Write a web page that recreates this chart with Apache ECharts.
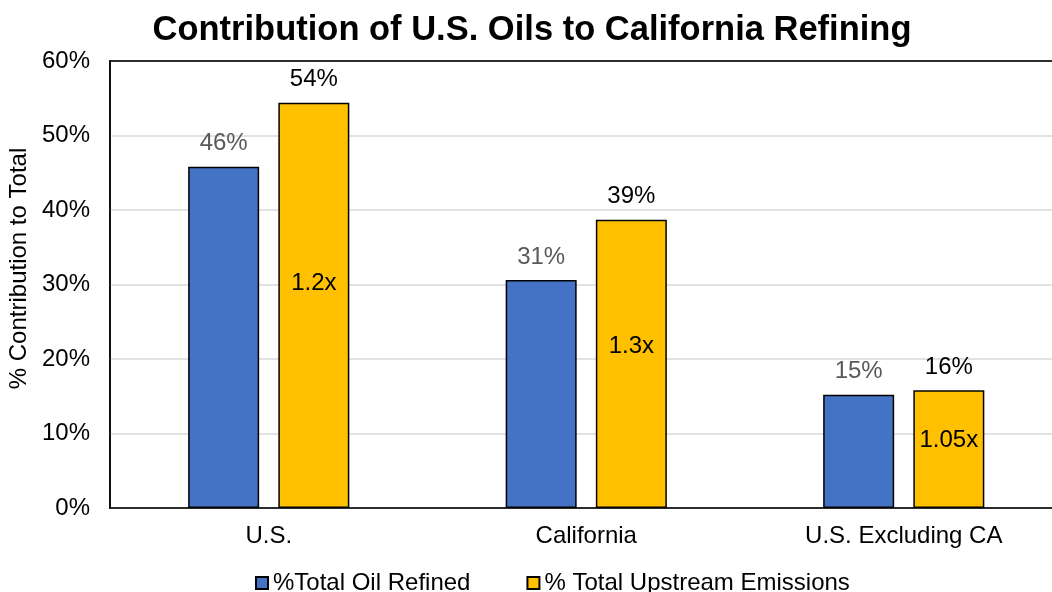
<!DOCTYPE html>
<html><head><meta charset="utf-8">
<script src="https://cdn.jsdelivr.net/npm/echarts@6/dist/echarts.min.js"></script>
<style>html,body{margin:0;padding:0;background:#fff}#c{width:1052px;height:592px}</style>
</head><body><div id="c"></div>
<script>
const categories = ['U.S.', 'California', 'U.S. Excluding CA'];
const oilRefined = [45.8, 30.6, 15.2];
const upstreamEmissions = [54.4, 38.7, 15.8];
const ratioLabels = ['1.2x', '1.3x', '1.05x'];
const yTicks = [0, 10, 20, 30, 40, 50, 60];

const FONT = '"Liberation Sans", Arial, sans-serif';
const ratioOffsets = [-22, -17, -9];
const BW = 71, GAP = '27%';

const chart = echarts.init(document.getElementById('c'));
chart.setOption({
  animation: false,
  title: {
    text: 'Contribution of U.S. Oils to California Refining',
    left: 527, top: 8, textAlign: 'center',
    textStyle: {fontFamily: FONT, fontSize: 34.5, fontWeight: 'bold', color: '#000'}
  },
  legend: {
    top: 566, left: 250, itemWidth: 12, itemHeight: 12, itemGap: 56,
    icon: 'rect',
    textStyle: {fontFamily: FONT, fontSize: 24, color: '#000'},
    data: ['%Total Oil Refined', '% Total Upstream Emissions']
  },
  grid: {left: 110, right: -10.5, top: 61, bottom: 84, show: true, borderColor: '#000', borderWidth: 1.5,
    outerBoundsMode: 'none', containLabel: false},
  xAxis: [{
    type: 'category', data: categories,
    axisLine: {lineStyle: {color: '#000', width: 1.5}},
    axisTick: {show: false},
    axisLabel: {fontFamily: FONT, fontSize: 24, color: '#000', margin: 16}
  }, {
    type: 'category', data: categories, position: 'top',
    axisLine: {show: true, lineStyle: {color: '#000', width: 1.5}},
    axisTick: {show: false}, axisLabel: {show: false}, splitLine: {show: false}
  }],
  yAxis: {
    type: 'value', min: 0, max: 60, interval: 10,
    name: '% Contribution to Total', nameLocation: 'middle', nameGap: 78,
    nameTextStyle: {fontFamily: FONT, fontSize: 24, color: '#000', padding: [0, 0, 0, 32]},
    axisLine: {show: true, lineStyle: {color: '#000', width: 1.5}},
    axisTick: {show: false},
    axisLabel: {fontFamily: FONT, fontSize: 24, color: '#000', margin: 20,
      formatter: v => yTicks.includes(v) ? v + '%' : ''},
    splitLine: {lineStyle: {color: '#d9d9d9', width: 1.5}}
  },
  series: [
    {
      name: '%Total Oil Refined', type: 'bar', barWidth: BW, barGap: GAP,
      data: oilRefined,
      itemStyle: {color: '#4472c4', borderColor: '#000', borderWidth: 1.5},
      label: {show: true, position: 'top', distance: 11, fontFamily: FONT, fontSize: 24, color: '#595959',
        formatter: p => Math.round(p.value) + '%'}
    },
    {
      name: '% Total Upstream Emissions', type: 'bar', barWidth: BW, barGap: GAP,
      data: upstreamEmissions,
      itemStyle: {color: '#ffc000', borderColor: '#000', borderWidth: 1.5},
      label: {show: true, position: 'top', distance: 11, fontFamily: FONT, fontSize: 24, color: '#000',
        formatter: p => Math.round(p.value) + '%'}
    },
    {
      name: 'spacer', type: 'bar', xAxisIndex: 1, barWidth: BW, barGap: GAP, silent: true,
      data: oilRefined, itemStyle: {color: 'rgba(0,0,0,0)'}, z: 1
    },
    {
      name: 'ratio', type: 'bar', xAxisIndex: 1, barWidth: BW, barGap: GAP, silent: true, z: 5,
      itemStyle: {color: 'rgba(0,0,0,0)'},
      data: upstreamEmissions.map((v, i) => ({
        value: v,
        label: {show: true, position: 'inside', offset: [0, ratioOffsets[i]], formatter: ratioLabels[i],
          fontFamily: FONT, fontSize: 24, color: '#000'}
      }))
    }
  ]
});
</script></body></html>
